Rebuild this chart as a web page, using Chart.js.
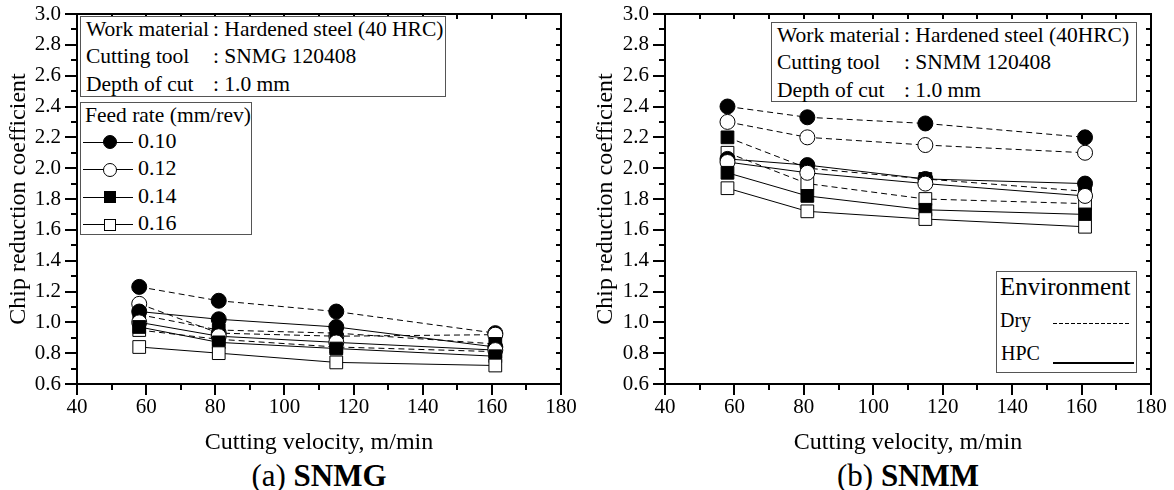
<!DOCTYPE html>
<html>
<head>
<meta charset="utf-8">
<script src="https://cdn.jsdelivr.net/npm/chart.js@4"></script>
<style>
    body { margin: 0; background: #fff; }
    #stage { position: relative; width: 1174px; height: 490px; overflow: hidden; font-family: 'Liberation Serif', 'Times New Roman', serif; color: #000; }
    #stage canvas { position: absolute; top: 0; }
    .lbl { position: absolute; line-height: 1; white-space: nowrap; }
    .box { position: absolute; border: 1px solid #555; box-sizing: border-box; background: #fff; }
    .mk { position: absolute; box-sizing: border-box; border: 1px solid #000; }
</style>
</head>
<body>
<div id="stage">
    <canvas id="snmgChart" width="587" height="457" style="left:0"></canvas>
    <canvas id="snmmChart" width="587" height="457" style="left:587px"></canvas>
</div>
<script>
// Datos
const velocity = [58, 81, 115, 161];
const feedRates = ['0.10', '0.12', '0.14', '0.16'];
const xTickLabels = [40, 60, 80, 100, 120, 140, 160, 180];
const yTickLabels = [0.6, 0.8, 1.0, 1.2, 1.4, 1.6, 1.8, 2.0, 2.2, 2.4, 2.6, 2.8, 3.0];

// (a) SNMG
const snmgDry010 = [1.23, 1.14, 1.07, 0.93];
const snmgDry012 = [1.12, 0.93, 0.91, 0.92];
const snmgDry014 = [1.05, 0.95, 0.93, 0.86];
const snmgDry016 = [0.95, 0.89, 0.84, 0.81];
const snmgHpc010 = [1.07, 1.02, 0.97, 0.84];
const snmgHpc012 = [1.00, 0.91, 0.87, 0.82];
const snmgHpc014 = [0.97, 0.87, 0.83, 0.78];
const snmgHpc016 = [0.84, 0.80, 0.74, 0.72];

// (b) SNMM
const snmmDry010 = [2.40, 2.33, 2.29, 2.20];
const snmmDry012 = [2.30, 2.20, 2.15, 2.10];
const snmmDry014 = [2.20, 2.00, 1.93, 1.85];
const snmmDry016 = [2.10, 1.90, 1.80, 1.77];
const snmmHpc010 = [2.06, 2.02, 1.93, 1.90];
const snmmHpc012 = [2.04, 1.97, 1.90, 1.82];
const snmmHpc014 = [1.97, 1.82, 1.73, 1.70];
const snmmHpc016 = [1.87, 1.72, 1.67, 1.62];

const FONT = "'Liberation Serif', 'Times New Roman', serif";
Chart.defaults.font.family = FONT;
Chart.defaults.color = '#000';

// estilo de marcador por avance
const markerStyle = [
    { pointStyle: 'circle', radius: 7.5, fill: '#000' },
    { pointStyle: 'circle', radius: 7.5, fill: '#fff' },
    { pointStyle: 'rect', radius: 9, fill: '#000' },
    { pointStyle: 'rect', radius: 9, fill: '#fff' }
];

function buildDatasets(dry, hpc) {
    const sets = [];
    [dry, hpc].forEach((group, g) => {
        group.forEach((values, i) => {
            const m = markerStyle[i];
            sets.push({
                label: (g === 0 ? 'Dry ' : 'HPC ') + feedRates[i],
                data: velocity.map((v, k) => ({ x: v, y: values[k] })),
                borderColor: '#000',
                borderWidth: 1,
                borderDash: g === 0 ? [6, 4] : [],
                pointStyle: m.pointStyle,
                pointRadius: m.radius,
                pointBackgroundColor: m.fill,
                pointBorderColor: '#000',
                pointBorderWidth: 1,
                tension: 0,
                order: -sets.length
            });
        });
    });
    return sets;
}

// marco, marcas mayores y menores
const frameTicks = {
    id: 'frameTicks',
    afterDraw(chart) {
        const { ctx, chartArea: a, scales: { x, y } } = chart;
        ctx.save();
        ctx.strokeStyle = '#000';
        ctx.lineWidth = 2;
        ctx.beginPath();
        for (let v = 40; v <= 180; v += 10) {
            const px = Math.round(x.getPixelForValue(v));
            const len = v % 20 === 0 ? 11 : 6;
            ctx.moveTo(px, a.bottom);
            ctx.lineTo(px, a.bottom + len);
            ctx.moveTo(px, a.top);
            ctx.lineTo(px, a.top + 5);
        }
        for (let k = 6; k <= 30; k++) {
            const py = Math.round(y.getPixelForValue(k / 10));
            const len = k % 2 === 0 ? 12 : 6;
            ctx.moveTo(a.left, py);
            ctx.lineTo(a.left - len, py);
            ctx.moveTo(a.right, py);
            ctx.lineTo(a.right - 5, py);
        }
        ctx.stroke();
        ctx.strokeRect(a.left, a.top, a.right - a.left, a.bottom - a.top);
        ctx.restore();
    }
};

function makeChart(id, dry, hpc, axisWidth, rightPad) {
    const ctx = document.getElementById(id).getContext('2d');
    return new Chart(ctx, {
        type: 'line',
        data: { datasets: buildDatasets(dry, hpc) },
        options: {
            responsive: false,
            animation: false,
            devicePixelRatio: 1,
            layout: { padding: { left: 0, top: 14, right: rightPad, bottom: 0 } },
            plugins: { legend: { display: false }, tooltip: { enabled: false } },
            scales: {
                x: {
                    type: 'linear',
                    min: 40,
                    max: 180,
                    afterBuildTicks: s => { s.ticks = xTickLabels.map(v => ({ value: v })); },
                    afterFit: s => { s.height = 73; s.paddingLeft = 0; s.paddingRight = 0; },
                    grid: { display: false, drawTicks: false },
                    border: { display: false },
                    ticks: { font: { size: 21 }, padding: 11, maxRotation: 0, autoSkip: false },
                    title: { display: true, text: 'Cutting velocity, m/min', font: { size: 24 }, padding: 0 }
                },
                y: {
                    type: 'linear',
                    min: 0.6,
                    max: 3.0,
                    afterBuildTicks: s => { s.ticks = yTickLabels.map(v => ({ value: v })); },
                    afterFit: s => { s.width = axisWidth; s.paddingTop = 0; s.paddingBottom = 0; },
                    grid: { display: false, drawTicks: false },
                    border: { display: false },
                    ticks: { font: { size: 21 }, padding: 16, callback: v => v.toFixed(1) },
                    title: { display: true, text: 'Chip reduction coefficient', font: { size: 24 }, padding: 4 }
                }
            }
        },
        plugins: [frameTicks]
    });
}

makeChart('snmgChart', [snmgDry010, snmgDry012, snmgDry014, snmgDry016],
    [snmgHpc010, snmgHpc012, snmgHpc014, snmgHpc016], 77, 26);
makeChart('snmmChart', [snmmDry010, snmmDry012, snmmDry014, snmmDry016],
    [snmmHpc010, snmmHpc012, snmmHpc014, snmmHpc016], 78, 23);

// Textos y cuadros sobre el gráfico
const stage = document.getElementById('stage');

function addText(x, baseline, size, html, center) {
    const d = document.createElement('div');
    d.className = 'lbl';
    d.style.left = x + 'px';
    d.style.top = (baseline - 0.8375 * size) + 'px';
    d.style.fontSize = size + 'px';
    if (center) d.style.transform = 'translateX(-50%)';
    d.innerHTML = html;
    stage.appendChild(d);
    return d;
}

function addBox(x, y, w, h) {
    const d = document.createElement('div');
    d.className = 'box';
    Object.assign(d.style, { left: x + 'px', top: y + 'px', width: w + 'px', height: h + 'px' });
    stage.appendChild(d);
    return d;
}

function infoBox(x, y, w, h, tool) {
    addBox(x, y, w, h);
    const rows = [
        ['Work material', ': Hardened steel (' + (tool === 'SNMG' ? '40 HRC' : '40HRC') + ')'],
        ['Cutting tool', ': ' + tool + ' 120408'],
        ['Depth of cut', ': 1.0 mm']
    ];
    rows.forEach((r, i) => {
        const base = y + 21 + i * 27.3;
        addText(x + 6, base, 21.5, r[0]);
        addText(x + 133, base, 21.5, r[1]);
    });
}

infoBox(80, 16, 366, 81, 'SNMG');
infoBox(771, 22, 366, 80, 'SNMM');

// leyenda de avance
addBox(80, 102, 172, 133);
addText(85, 123, 21.5, 'Feed rate (mm/rev)');
feedRates.forEach((f, i) => {
    const base = 148 + i * 27.5;
    const cy = base - 6;
    const line = document.createElement('div');
    Object.assign(line.style, { position: 'absolute', left: '83px', width: '50px', top: (cy - 0.5) + 'px', height: '1px', background: '#000' });
    stage.appendChild(line);
    const m = markerStyle[i];
    const size = m.pointStyle === 'circle' ? 14 : 12;
    const mk = document.createElement('div');
    mk.className = 'mk';
    Object.assign(mk.style, {
        left: (110 - size / 2) + 'px', top: (cy - size / 2) + 'px',
        width: size + 'px', height: size + 'px', background: m.fill,
        borderRadius: m.pointStyle === 'circle' ? '50%' : '0'
    });
    stage.appendChild(mk);
    addText(138, base, 22, f);
});

// leyenda de ambiente
addBox(996, 271, 141, 102);
addText(1000, 295, 25, 'Environment');
addText(1000, 327, 20, 'Dry');
addText(1001, 360, 20, 'HPC');
const dash = document.createElement('div');
Object.assign(dash.style, { position: 'absolute', left: '1053px', width: '77px', top: '323px', height: '1px',
    background: 'repeating-linear-gradient(90deg, #000 0 4px, transparent 4px 6px)' });
stage.appendChild(dash);
const solid = document.createElement('div');
Object.assign(solid.style, { position: 'absolute', left: '1053px', width: '81px', top: '362px', height: '2px', background: '#000' });
stage.appendChild(solid);

// pies de figura
addText(319, 486, 31, '(a) <b>SNMG</b>', true);
addText(908, 486, 31, '(b) <b>SNMM</b>', true);
</script>
</body>
</html>
